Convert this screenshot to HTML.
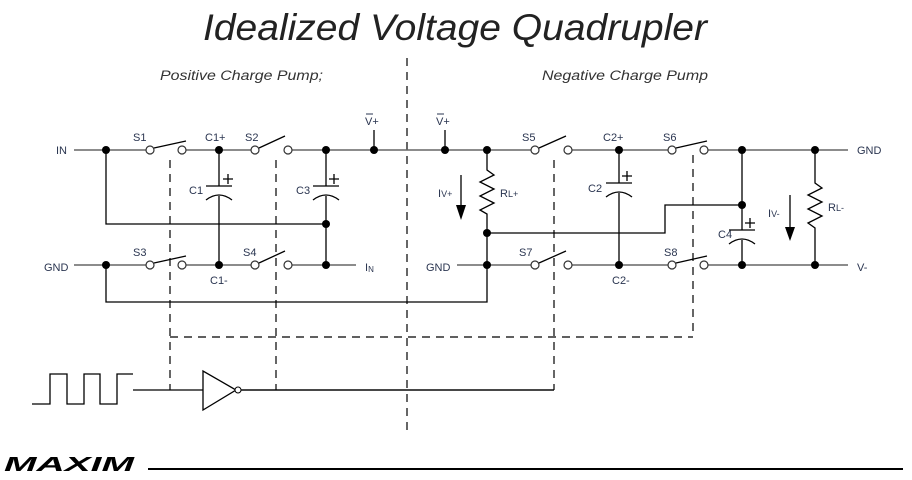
<!DOCTYPE html>
<html><head><meta charset="utf-8"><style>
html,body{margin:0;padding:0;background:#fff;}
svg{display:block;}
text{font-family:"Liberation Sans",sans-serif;}
.l{font-size:11px;fill:#2a3550;}
</style></head><body>
<svg width="912" height="480" viewBox="0 0 912 480" xmlns="http://www.w3.org/2000/svg">
<text x="203" y="40" font-size="37" font-style="italic" fill="#222" textLength="504" lengthAdjust="spacingAndGlyphs">Idealized Voltage Quadrupler</text>
<text x="160" y="80" font-size="13.5" font-style="italic" fill="#333" textLength="163" lengthAdjust="spacingAndGlyphs">Positive Charge Pump;</text>
<text x="542" y="80" font-size="13.5" font-style="italic" fill="#333" textLength="166" lengthAdjust="spacingAndGlyphs">Negative Charge Pump</text>

<g stroke="#000" stroke-width="1.2" fill="none" stroke-dasharray="8,6">
<line x1="407" y1="58" x2="407" y2="435"/>
<line x1="170" y1="160" x2="170" y2="390"/>
<line x1="276" y1="160" x2="276" y2="390"/>
<line x1="554" y1="160" x2="554" y2="390"/>
<line x1="693" y1="155" x2="693" y2="337"/>
<line x1="170" y1="337" x2="693" y2="337"/>
</g>

<g stroke="#666" stroke-width="1.4" fill="none">
<!-- top row -->
<line x1="74" y1="150" x2="146" y2="150"/>
<line x1="186" y1="150" x2="251" y2="150"/>
<line x1="292" y1="150" x2="531" y2="150"/>
<line x1="572" y1="150" x2="668" y2="150"/>
<line x1="708" y1="150" x2="848" y2="150"/>
<!-- bottom row -->
<line x1="74" y1="265" x2="146" y2="265"/>
<line x1="186" y1="265" x2="251" y2="265"/>
<line x1="292" y1="265" x2="356" y2="265"/>
<line x1="457" y1="265" x2="531" y2="265"/>
<line x1="572" y1="265" x2="668" y2="265"/>
<line x1="708" y1="265" x2="848" y2="265"/>
</g>

<g stroke="#000" stroke-width="1.3" fill="none">
<polyline points="106,150 106,224 326,224"/>
<polyline points="106,265 106,302 487,302 487,265"/>
<line x1="219" y1="150" x2="219" y2="186"/><line x1="219" y1="196" x2="219" y2="265"/>
<line x1="326" y1="150" x2="326" y2="186"/><line x1="326" y1="196" x2="326" y2="265"/>
<line x1="206" y1="186" x2="232" y2="186"/><path d="M206,200 Q219,190 232,200"/>
<line x1="313" y1="186" x2="339" y2="186"/><path d="M313,200 Q326,190 339,200"/>
<line x1="374" y1="150" x2="374" y2="130"/>
<line x1="445" y1="150" x2="445" y2="130"/>
<!-- RL+ -->
<polyline points="487,150 487,170 494,175 480,182 494,189 480,196 494,203 480,210 487,214 487,265"/>
<polyline points="487,233 665,233 665,205 742,205"/>
<!-- C2 -->
<line x1="619" y1="150" x2="619" y2="183"/><line x1="619" y1="193" x2="619" y2="265"/>
<line x1="606" y1="183" x2="632" y2="183"/><path d="M606,197 Q619,187 632,197"/>
<!-- C4 -->
<line x1="742" y1="150" x2="742" y2="230"/><line x1="742" y1="240" x2="742" y2="265"/>
<line x1="729" y1="230" x2="755" y2="230"/><path d="M729,244 Q742,234 755,244"/>
<!-- RL- -->
<polyline points="815,150 815,183 822,188 808,195 822,202 808,209 822,216 808,223 815,228 815,265"/>
<!-- plus signs -->
<path d="M223,179h10M228,174v10M329,179h10M334,174v10M622,176h10M627,171v10M745,223h10M750,218v10"/>
<!-- switch blades -->
<path d="M154,148L186,141M154,263L186,256M259,148L285,136M259,263L285,251M539,148L566,136M539,263L566,251M676,148L707,141M676,263L707,256"/>
<!-- control -->
<line x1="133" y1="390" x2="203" y2="390"/>
<line x1="213" y1="390" x2="554" y2="390"/>
<polyline points="32,404 50,404 50,374 67,374 67,404 84,404 84,374 100,374 100,404 117,404 117,374 133,374"/>
<polygon points="203,371 203,410 236,390" fill="#fff"/>
<line x1="240" y1="390" x2="554" y2="390"/>
<!-- arrows lines -->
<line x1="461" y1="175" x2="461" y2="205"/>
<line x1="790" y1="195" x2="790" y2="227"/>
</g>
<polygon points="456,205 466,205 461,220" fill="#000"/>
<polygon points="785,227 795,227 790,241" fill="#000"/>
<circle cx="238" cy="390" r="3" fill="#fff" stroke="#000" stroke-width="1"/>

<g fill="#fff" stroke="#333" stroke-width="1.2">
<circle cx="150" cy="150" r="4"/><circle cx="182" cy="150" r="4"/>
<circle cx="255" cy="150" r="4"/><circle cx="288" cy="150" r="4"/>
<circle cx="535" cy="150" r="4"/><circle cx="568" cy="150" r="4"/>
<circle cx="672" cy="150" r="4"/><circle cx="704" cy="150" r="4"/>
<circle cx="150" cy="265" r="4"/><circle cx="182" cy="265" r="4"/>
<circle cx="255" cy="265" r="4"/><circle cx="288" cy="265" r="4"/>
<circle cx="535" cy="265" r="4"/><circle cx="568" cy="265" r="4"/>
<circle cx="672" cy="265" r="4"/><circle cx="704" cy="265" r="4"/>
</g>
<g fill="#000">
<circle cx="106" cy="150" r="4"/><circle cx="219" cy="150" r="4"/><circle cx="326" cy="150" r="4"/>
<circle cx="374" cy="150" r="4"/><circle cx="445" cy="150" r="4"/><circle cx="487" cy="150" r="4"/>
<circle cx="619" cy="150" r="4"/><circle cx="742" cy="150" r="4"/><circle cx="815" cy="150" r="4"/>
<circle cx="326" cy="224" r="4"/><circle cx="487" cy="233" r="4"/><circle cx="742" cy="205" r="4"/>
<circle cx="106" cy="265" r="4"/><circle cx="219" cy="265" r="4"/><circle cx="326" cy="265" r="4"/>
<circle cx="487" cy="265" r="4"/><circle cx="619" cy="265" r="4"/><circle cx="742" cy="265" r="4"/><circle cx="815" cy="265" r="4"/>
</g>

<g class="l">
<text x="56" y="154">IN</text>
<text x="44" y="271">GND</text>
<text x="133" y="141">S1</text>
<text x="205" y="141">C1+</text>
<text x="245" y="141">S2</text>
<text x="365" y="125">V+</text><line x1="366" y1="114" x2="373" y2="114" stroke="#2a3550"/>
<text x="436" y="125">V+</text><line x1="437" y1="114" x2="444" y2="114" stroke="#2a3550"/>
<text x="189" y="194">C1</text>
<text x="296" y="194">C3</text>
<text x="133" y="256">S3</text>
<text x="243" y="256">S4</text>
<text x="210" y="284">C1-</text>
<text x="365" y="271">I<tspan font-size="8" dy="1">N</tspan></text>
<text x="426" y="271">GND</text>
<text x="438" y="197">I<tspan font-size="9">V+</tspan></text>
<text x="500" y="197">R<tspan font-size="9">L+</tspan></text>
<text x="522" y="141">S5</text>
<text x="603" y="141">C2+</text>
<text x="663" y="141">S6</text>
<text x="857" y="154">GND</text>
<text x="588" y="192">C2</text>
<text x="718" y="238">C4</text>
<text x="768" y="217">I<tspan font-size="9">V-</tspan></text>
<text x="828" y="211">R<tspan font-size="9">L-</tspan></text>
<text x="519" y="256">S7</text>
<text x="664" y="256">S8</text>
<text x="612" y="284">C2-</text>
<text x="857" y="271">V-</text>
</g>

<text x="4" y="471" font-size="20" font-weight="bold" font-style="italic" fill="#000" textLength="130" lengthAdjust="spacingAndGlyphs">MAXIM</text>
<rect x="148" y="468" width="755" height="2" fill="#000"/>
</svg>
</body></html>
